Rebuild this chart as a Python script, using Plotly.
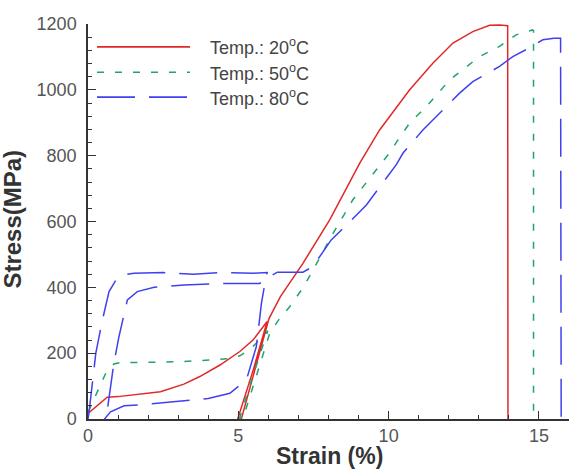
import plotly.graph_objects as go

# ---- data ----
red_strain = [0, 0.3, 0.64, 1.0, 1.53, 2.41, 3.19, 3.72, 4.39, 5.05, 5.49, 5.96,
              5.5, 4.98,
              5.1, 5.6, 6.02, 6.4, 7.15, 8.04, 9.04, 9.7, 10.37, 10.7, 11.47,
              12.14, 12.8, 13.36, 13.7, 13.96, 13.97]
red_stress = [17, 40, 66, 68, 73, 83, 106, 129, 164, 205, 240, 296,
              150, 0,
              0, 165, 305, 372, 473, 605, 777, 878, 960, 1000, 1081,
              1142, 1177, 1196, 1197, 1195, 0]

green_strain = [0, 0.1, 0.31, 0.59, 0.86, 1.1, 2.0, 3.06, 4.05, 4.72, 5.05, 5.4, 5.7, 5.98,
                5.5, 5.05,
                5.15, 5.6, 6.05, 6.38, 6.71, 7.1, 7.43, 8.15, 8.81, 9.59, 10.03, 10.31,
                10.7, 11.25, 12.03, 13.02, 13.69, 14.24, 14.79, 14.82, 14.82]
green_stress = [20, 40, 78, 139, 167, 172, 172, 174, 179, 184, 192, 212, 240, 268,
                135, 5,
                0, 130, 262, 306, 341, 392, 443, 564, 666, 757, 808, 848,
                899, 949, 1030, 1101, 1132, 1167, 1182, 1180, 0]

blue_strain = [0, 0.03, 0.26, 0.48, 0.7, 0.97, 1.2, 1.53, 2.5, 3.5, 4.5, 5.5, 5.96,
               5.9, 5.77, 5.6, 5.27, 4.72, 4.0, 3.06, 2.0, 1.2, 0.75, 0.55,
               0.6, 0.86, 1.03, 1.31, 1.64, 2.2, 3.19, 4.72, 5.71, 6.0, 6.3, 6.8, 7.15,
               7.48, 8.09, 8.43, 9.26, 10.25, 10.48, 11.14, 11.69, 12.36, 12.8, 13.69,
               14.13, 14.57, 15.13, 15.5, 15.72, 15.74]
blue_stress = [0, 17, 200, 301, 387, 428, 438, 443, 445, 440, 445, 443, 445,
               420, 352, 220, 119, 78, 62, 53, 45, 40, 22, 0,
               0, 169, 250, 362, 387, 400, 407, 412, 412, 430, 446, 446, 446,
               463, 544, 574, 650, 772, 808, 878, 929, 990, 1025, 1071,
               1101, 1122, 1152, 1157, 1157, 0]

series_names = ["Temp.: 20<sup>o</sup>C", "Temp.: 50<sup>o</sup>C", "Temp.: 80<sup>o</sup>C"]
series_colors = ["#e02828", "#1fa46c", "#4040ee"]
series_dash = ["solid", "7px,11px", "38px,14px"]

x_ticks = [0, 5, 10, 15]
y_ticks = [0, 200, 400, 600, 800, 1000, 1200]

FONT = "Liberation Sans, Arial, sans-serif"

fig = go.Figure()
for xs, ys, name, col, dash in zip(
        [red_strain, green_strain, blue_strain],
        [red_stress, green_stress, blue_stress],
        series_names, series_colors, series_dash):
    fig.add_trace(go.Scatter(x=xs, y=ys, mode="lines", name=name,
                             line=dict(color=col, width=1.5, dash=dash),
                             showlegend=False))

# manual legend (long line samples like the reference)
leg_y = [0.942, 0.878, 0.815]
for name, col, dash, yy in zip(series_names, series_colors, series_dash, leg_y):
    fig.add_shape(type="line", xref="paper", yref="paper",
                  x0=0.0187, x1=0.212, y0=yy, y1=yy,
                  line=dict(color=col, width=1.6, dash=dash))
    fig.add_annotation(xref="paper", yref="paper", x=0.2495, y=yy,
                       xanchor="left", yanchor="middle", text=name,
                       showarrow=False, font=dict(family=FONT, size=18, color="#444"))

# axis titles
fig.add_annotation(xref="paper", yref="paper", x=0.502, y=-0.094,
                   text="<b>Strain (%)</b>", showarrow=False,
                   xanchor="center", yanchor="middle",
                   font=dict(family=FONT, size=23, color="#333"))
fig.add_annotation(xref="paper", yref="paper", x=-0.157, y=0.506,
                   text="<b>Stress(MPa)</b>", showarrow=False, textangle=-90,
                   xanchor="center", yanchor="middle",
                   font=dict(family=FONT, size=24, color="#333"))

axis_common = dict(showgrid=False, zeroline=False, showline=True,
                   linecolor="#333", linewidth=1.5,
                   ticks="inside", ticklen=8, tickwidth=1.3, tickcolor="#333",
                   tickfont=dict(family=FONT, size=18, color="#555"))

fig.update_xaxes(range=[0, 16], tickvals=x_ticks, ticktext=[str(v) for v in x_ticks],
                 minor=dict(dtick=1, tick0=0, ticks="inside", ticklen=4, tickcolor="#333", tickwidth=1.2),
                 ticklabelstandoff=0, **axis_common)
fig.update_yaxes(range=[0, 1200], tickvals=y_ticks, ticktext=[str(v) for v in y_ticks],
                 minor=dict(dtick=40, tick0=0, ticks="inside", ticklen=4, tickcolor="#333", tickwidth=1.2),
                 ticklabelstandoff=6, **axis_common)

fig.update_layout(width=569, height=471,
                  margin=dict(l=88, r=0, t=24, b=52),
                  paper_bgcolor="white", plot_bgcolor="white",
                  showlegend=False)

fig.write_html("out.html")
